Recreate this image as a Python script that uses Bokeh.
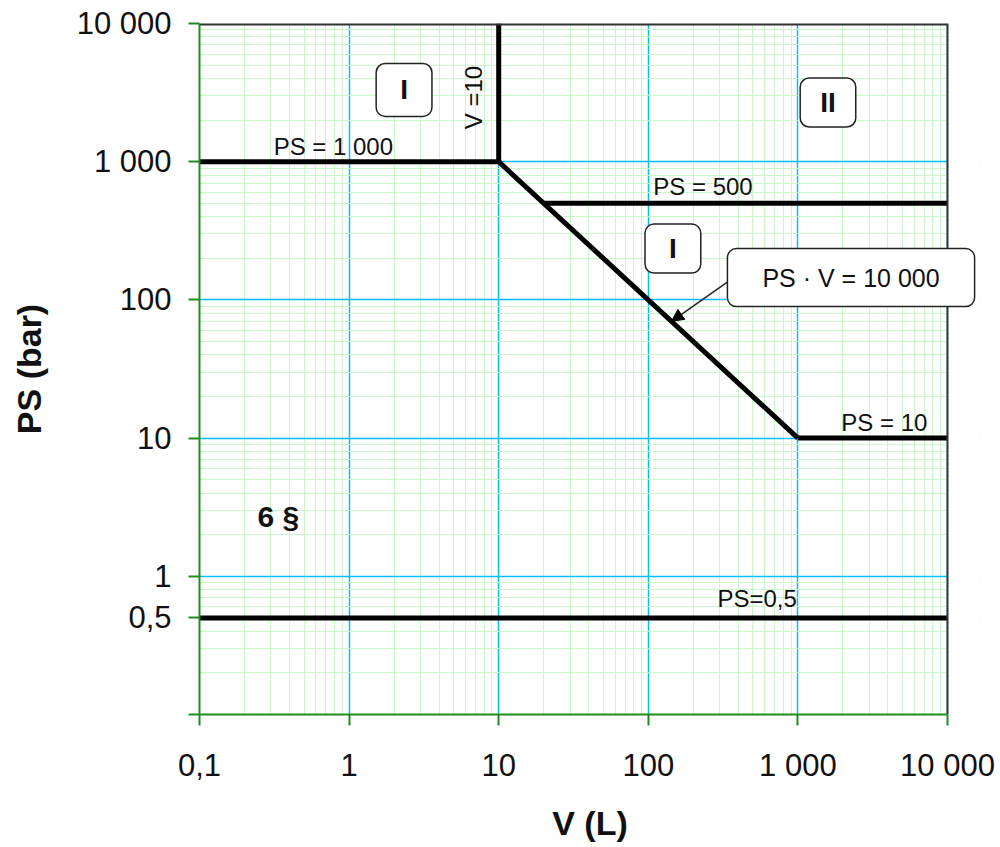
import math
from bokeh.plotting import figure
from bokeh.models import Range1d, FixedTicker, Label, Arrow, NormalHead, BoxAnnotation, Span
from bokeh.embed import file_html
from bokeh.resources import INLINE

# ---- axes / ticks ----
x_ticks = [0.1, 1, 10, 100, 1000, 10000]
x_tick_labels = ["0,1", "1", "10", "100", "1 000", "10 000"]
y_ticks = [0.1, 0.5, 1, 10, 100, 1000, 10000]
y_tick_labels = ["", "0,5", "1", "10", "100", "1 000", "10 000"]
minor_mult = [2, 3, 4, 5, 6, 7, 8, 9]
decades = [-1, 0, 1, 2, 3]
x_min, x_max = 0.1, 10000          # drawn chart area
x_view_end = 16620                  # a little extra room so the right call-out box is not cut
y_min, y_max = 0.1, 10000

# ---- boundary lines (V in L, PS in bar) ----
ps1000_v = [0.1, 10]
ps1000_ps = [1000, 1000]
v10_v = [10, 10]
v10_ps = [1000, 10000]
pv_v = [10, 1000]
pv_ps = [1000, 10]
ps10_v = [1000, 10000]
ps10_ps = [10, 10]
ps500_v = [20, 10000]
ps500_ps = [500, 500]
ps05_v = [0.1, 10000]
ps05_ps = [0.5, 0.5]

FONT = "Liberation Sans"
AXIS_GREEN = "#1e8c1e"
BORDER = "#333333"

minor = [m * 10 ** k for k in decades for m in minor_mult]
minor_y = [v for v in minor if v != 0.5]

p = figure(width=1000, height=847, x_axis_type="log", y_axis_type="log",
           x_range=Range1d(x_min, x_view_end), y_range=Range1d(y_min, y_max),
           output_backend="svg", toolbar_location=None,
           min_border_left=199, min_border_right=20, min_border_top=23,
           min_border_bottom=133)
p.background_fill_color = "white"
p.border_fill_color = "white"
p.outline_line_color = None

xt = FixedTicker(ticks=x_ticks, minor_ticks=minor)
yt = FixedTicker(ticks=y_ticks, minor_ticks=minor_y)
p.xaxis.ticker = xt
p.yaxis.ticker = yt
p.xgrid.ticker = xt
p.ygrid.ticker = yt
p.xaxis.major_label_overrides = {t: l for t, l in zip(x_ticks, x_tick_labels)}
p.yaxis.major_label_overrides = {t: l for t, l in zip(y_ticks, y_tick_labels)}
p.xaxis.bounds = (x_min, x_max)

for g in (p.xgrid, p.ygrid):
    g.grid_line_color = "#00bfff"
    g.grid_line_width = 1.5
    g.minor_grid_line_color = "#c9f7c9"
    g.minor_grid_line_width = 1

for ax in (p.xaxis, p.yaxis):
    ax.axis_line_color = AXIS_GREEN
    ax.axis_line_width = 2
    ax.major_tick_line_color = AXIS_GREEN
    ax.major_tick_line_width = 2
    ax.major_tick_in = 0
    ax.major_tick_out = 11
    ax.minor_tick_in = 0
    ax.minor_tick_out = 0
    ax.major_label_text_font = FONT
    ax.major_label_text_font_size = "31px"
    ax.major_label_text_color = "#111111"
    ax.axis_label_text_font = FONT
    ax.axis_label_text_font_style = "bold"
    ax.axis_label_text_font_size = "34px"
    ax.axis_label_text_color = "#111111"

p.xaxis.major_label_standoff = 22
p.yaxis.major_label_standoff = 17
p.yaxis.axis_label = "PS (bar)"
p.yaxis.axis_label_standoff = 26
p.xaxis.axis_label = "V (L)"
p.xaxis.axis_label_standoff = 18

# ---- boundary lines ----
lw = 5
for xs, ys in [(ps1000_v, ps1000_ps), (v10_v, v10_ps), (pv_v, pv_ps),
               (ps10_v, ps10_ps), (ps500_v, ps500_ps), (ps05_v, ps05_ps)]:
    p.line(xs, ys, line_color="black", line_width=lw, line_cap="butt", line_join="miter")

# ---- frame border (top + right), area beyond V = 10 000 blanked ----
p.add_layout(BoxAnnotation(left=x_max, right=x_view_end * 10, top=y_max * 10, bottom=y_min / 10,
                           fill_color="white", fill_alpha=1.0, line_color=None))
p.segment(x0=[x_min], y0=[y_max], x1=[x_max], y1=[y_max], line_color=BORDER, line_width=4)
p.add_layout(Span(location=x_max, dimension="height", line_color=BORDER, line_width=2))

# ---- text labels ----
def txt(text, x, y, size="24px", bold=False, **kw):
    lab = Label(x=x, y=y, text=text, text_font=FONT, text_font_size=size,
                text_color="#111111", text_font_style="bold" if bold else "normal", **kw)
    p.add_layout(lab)
    return lab

txt("PS = 1 000", 0.313, 1000, y_offset=15, text_baseline="middle")
txt("PS = 500", 108, 500, y_offset=17, text_baseline="middle")
txt("PS = 10", 1950, 10, y_offset=16, text_baseline="middle")
txt("PS=0,5", 290, 0.5, y_offset=19, text_baseline="middle")
txt("V =10", 10, 2914, x_offset=-25, angle=math.pi / 2,
    text_align="center", text_baseline="middle")
txt("6 §", 0.244, 2.71, size="30px", bold=True, text_baseline="middle")

# ---- arrow ----
p.add_layout(Arrow(end=NormalHead(size=12, fill_color="black", line_color="black"),
                   x_start=343, y_start=136, x_end=143, y_end=70,
                   line_color="#222222", line_width=1.5))

# ---- boxes ----
def box(text, x, y, pad, size="28px", bold=True):
    lab = Label(x=x, y=y, text=text, text_font=FONT, text_font_size=size,
                text_font_style="bold" if bold else "normal", text_color="#111111",
                text_align="center", text_baseline="middle",
                background_fill_color="white", border_line_color="#222222",
                border_line_width=1.5, border_radius=9, padding=pad)
    p.add_layout(lab)

box("I", 2.33, 3304, (24, 11))
box("II", 1589, 2682, (20, 9))
box("I", 146, 235, (24, 9))
box("PS · V = 10 000", 2265, 145, (35, 15), size="25px", bold=False)

open("out.html", "w").write(file_html(p, INLINE))
